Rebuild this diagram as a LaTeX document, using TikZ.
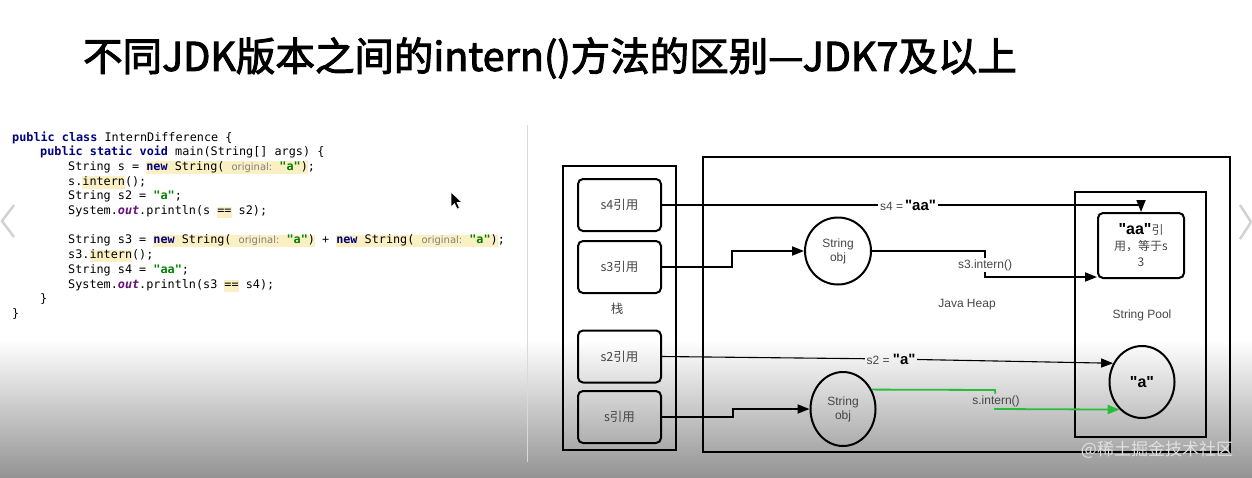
\documentclass[tikz,border=0pt]{standalone}
\usepackage{fontspec}
\setmainfont{Liberation Sans}
\setmonofont{DejaVu Sans Mono}
\newfontfamily\cjk{Noto Sans CJK SC}
\newfontfamily\cjktitle[FakeBold=2.5]{Noto Sans CJK SC}
\newfontfamily\jhintfont{DejaVu Sans}
\usetikzlibrary{arrows.meta,shapes.geometric}
\definecolor{kwblue}{RGB}{0,0,128}
\definecolor{strgreen}{RGB}{0,128,0}
\definecolor{outpurple}{RGB}{102,14,122}
\definecolor{hly}{RGB}{250,240,195}
\definecolor{hintgray}{RGB}{128,128,128}
\definecolor{lblgray}{RGB}{70,70,70}
\definecolor{arrgreen}{RGB}{40,190,60}
\newcommand\jkw[1]{{\bfseries\color{kwblue}#1}}
\newcommand\jstr[1]{{\bfseries\color{strgreen}#1}}
\newcommand\jout[1]{{\bfseries\itshape\color{outpurple}#1}}
\newcommand\jhint[1]{{\jhintfont\fontsize{10}{12}\selectfont\color{hintgray}#1}}
\newcommand\jhl[1]{{\setlength{\fboxsep}{0pt}\colorbox{hly}{\rule[-3.5pt]{0pt}{11.5pt}#1}}}
\newcommand\qq{\textquotedbl}
\begin{document}
\begin{tikzpicture}[x=1pt,y=-1pt,
  code/.style={anchor=base west, inner sep=0pt, font=\ttfamily\fontsize{11.8}{14}\selectfont},
  refbox/.style={draw, rounded corners=5pt, line width=2pt, minimum width=83pt, minimum height=52pt, font=\cjk\fontsize{12.5}{14}\selectfont, text=lblgray},
  objcirc/.style={draw, ellipse, line width=2pt, inner sep=0pt, align=center, font=\fontsize{12}{14}\selectfont, text=lblgray},
  lbl/.style={inner sep=1.5pt, font=\fontsize{12}{14}\selectfont, text=lblgray},
  conn/.style={line width=1.8pt, black},
  thinconn/.style={line width=1.1pt, black},
  gconn/.style={line width=1.8pt, arrgreen},
  arr/.style={-{Triangle[length=12pt,width=9pt]}},
  bigbox/.style={line width=2.4pt, black}
]
\useasboundingbox (0,0) rectangle (1252,477);
\shade[top color=white, bottom color=black!42] (0,340) rectangle (1252,477);

% title
\node (title) at (550,58) {\cjktitle\fontsize{39.5}{42}\selectfont 不同JDK版本之间的intern()方法的区别—JDK7及以上};

% nav chevrons and separator
\draw[gray!35, line width=2.5pt] (14,205) -- (2,221) -- (14,237);
\draw[gray!35, line width=2.5pt] (1240,205) -- (1251,222) -- (1240,239);
\draw[gray!30, line width=0.8pt] (527,125) -- (527,462);

% code
\node[code] (L1) at (12,141) {\jkw{public} \jkw{class} InternDifference \{};
\node[code] (L2) at (40,155.7) {\jkw{public} \jkw{static} \jkw{void} main(String[] args) \{};
\node[code] (L3) at (68,170.4) {String s = \jhl{\jkw{new} String( \jhint{original:} \jstr{"a"})};};
\node[code] (L4) at (68,185.1) {s.\jhl{intern}();};
\node[code] (L5) at (68,199.8) {String s2 = \jstr{"a"};};
\node[code] (L6) at (68,214.5) {System.\jout{out}.println(s \jhl{==} s2);};
\node[code] (L8) at (68,243.9) {String s3 = \jhl{\jkw{new} String( \jhint{original:} \jstr{"a"})} + \jhl{\jkw{new} String( \jhint{original:} \jstr{"a"})};};
\node[code] (L9) at (68,258.6) {s3.\jhl{intern}();};
\node[code] (L10) at (68,273.3) {String s4 = \jstr{"aa"};};
\node[code] (L11) at (68,288) {System.\jout{out}.println(s3 \jhl{==} s4);};
\node[code] (L12) at (40,302.7) {\}};
\node[code] (L13) at (12,317.4) {\}};

% cursor
\fill[black, draw=white, line width=0.6pt] (451,192) -- (451,207) -- (454.5,203.5) -- (457,209) -- (459.5,208) -- (457,202.5) -- (462,202.5) -- cycle;

% containers
\draw[bigbox] (563,166) rectangle (676,450);
\draw[bigbox] (703,157) rectangle (1230,452);
\draw[bigbox] (1075,192) rectangle (1206,437);
\node[lbl, font=\cjk\fontsize{12.5}{14}\selectfont] (stacklbl) at (617,309) {栈};
\node[lbl] (heaplbl) at (967,305) {Java Heap};
\node[lbl] (poollbl) at (1142,315) {String Pool};

% stack refs
\node[refbox] (s4) at (619.5,205) {s4引用};
\node[refbox] (s3) at (619.5,267) {s3引用};
\node[refbox] (s2) at (619.5,356.5) {s2引用};
\node[refbox] (s) at (619.5,417) {s引用};

% heap objects
\node[objcirc, minimum width=66pt, minimum height=67pt] (c1) at (838,251) {String\\obj};
\node[objcirc, minimum width=65pt, minimum height=74pt] (c2) at (843,409) {String\\obj};
\node[objcirc, minimum width=65pt, minimum height=72pt, font=\bfseries\fontsize{16}{18}\selectfont, text=black] (ca) at (1142,382) {\qq a\qq};
\node[draw, rounded corners=5pt, line width=2pt, minimum width=86pt, minimum height=65pt, align=center, text=lblgray, font=\cjk\fontsize{12}{16}\selectfont] (aa) at (1141,245.5) {{\rmfamily\bfseries\fontsize{16}{16}\selectfont\color{black}\qq aa\qq}引\\用，等于s\\3};

% labels
\node[lbl] (l4) at (908,205) {s4 =\,{\bfseries\fontsize{15}{16}\selectfont\color{black}\qq aa\qq}};
\node[lbl] (l3) at (985,265) {s3.intern()};
\node[lbl] (l2) at (891,359) {s2 = {\bfseries\fontsize{15}{16}\selectfont\color{black}\qq a\qq}};
\node[lbl] (lg) at (996,401) {s.intern()};

% helper coordinates
\coordinate (k4) at (1141,205);
\coordinate (k3a) at (732,267);
\coordinate (k3b) at (732,251);
\coordinate (k3c) at (985,251);
\coordinate (k3d) at (985,277);
\coordinate (k1a) at (733,417);
\coordinate (k1b) at (733,409);
\coordinate (kga) at (995,390);
\coordinate (kgb) at (995,409);

% connectors
\draw[conn] (s4.east) -- (l4);
\draw[conn,arr] (l4) -- (k4) -- (aa.north);
\draw[conn,arr] (s3.east) -- (k3a) -- (k3b) -- (c1.west);
\draw[conn] (c1.east) -- (k3c) -- (l3);
\draw[conn,arr] (l3) -- (k3d) -- (k3d -| aa.west);
\draw[thinconn] (s2.east) -- (l2);
\draw[thinconn,arr] (l2) -- (ca.147);
\draw[conn,arr] (s.east) -- (k1a) -- (k1b) -- (c2.west);
\draw[gconn] (c2.34) -- (kga) -- (lg);
\draw[gconn,arr] (lg) -- (kgb) -- (ca.231.5);

% watermark
\node (wm) at (1157,450) {\cjk\fontsize{17}{18}\selectfont\color{white!88!black}@稀土掘金技术社区};
\end{tikzpicture}
\end{document}
